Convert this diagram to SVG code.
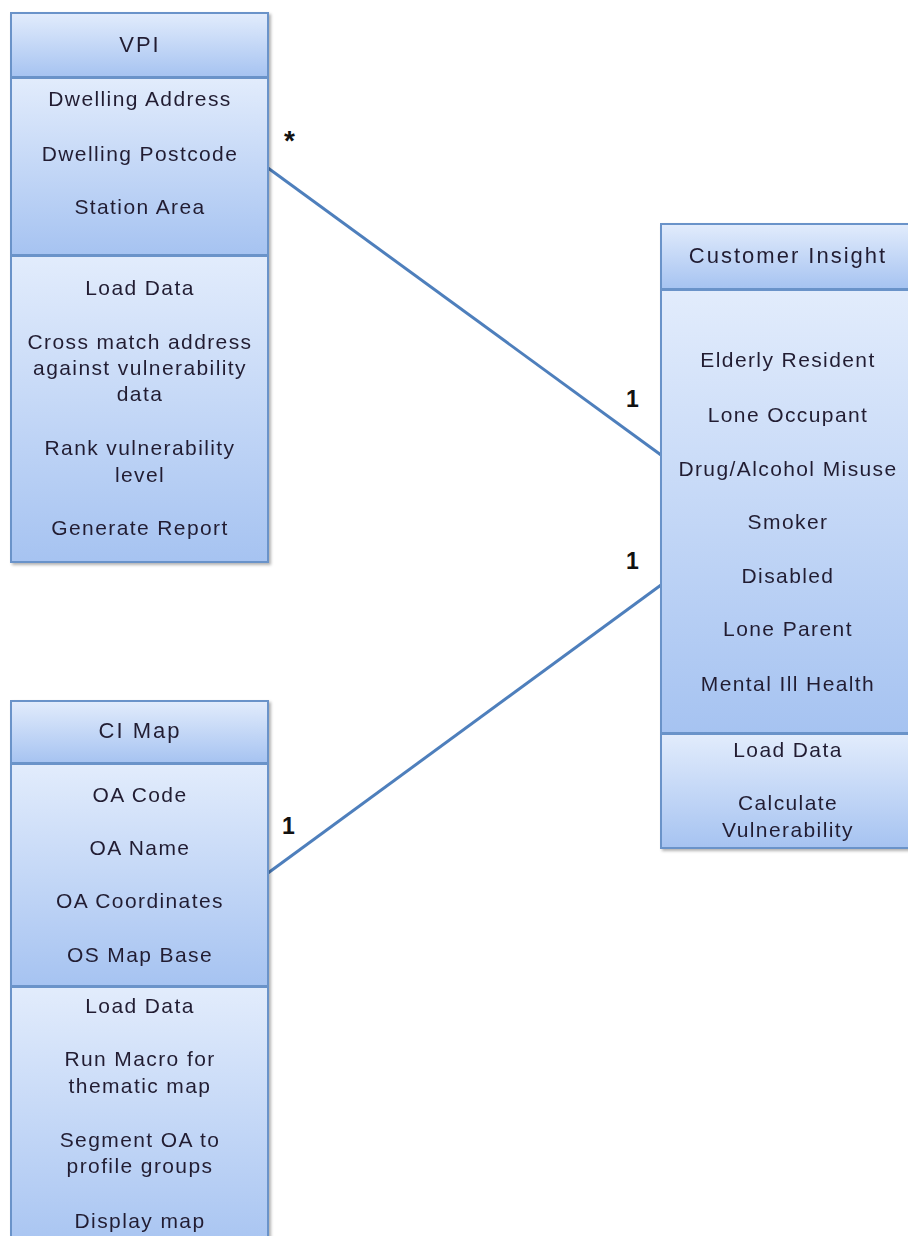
<svg xmlns="http://www.w3.org/2000/svg" width="908" height="1236" viewBox="0 0 908 1236">
<defs>
<linearGradient id="g" x1="0" y1="0" x2="0" y2="1">
<stop offset="0" stop-color="#e2ecfc"/>
<stop offset="1" stop-color="#a6c3f1"/>
</linearGradient>
<filter id="sh" x="-10%" y="-10%" width="120%" height="120%">
<feDropShadow dx="2" dy="2" stdDeviation="1.5" flood-color="#000" flood-opacity="0.3"/>
</filter>
<style>
.sec{fill:url(#g);stroke:#6b93c9;stroke-width:2}
.t{font-family:"Liberation Sans",Arial,sans-serif;font-size:21px;letter-spacing:1.4px;fill:#221e33;text-anchor:middle}
.h{font-size:22px;letter-spacing:2px}
.m{font-family:"Liberation Sans",Arial,sans-serif;font-size:23px;font-weight:bold;fill:#111}
.ln{stroke:#4e7fbc;stroke-width:3;fill:none}
</style>
</defs>
<g id="connectors">
<line class="ln" x1="268" y1="168" x2="661" y2="455"/>
<line class="ln" x1="661" y1="585" x2="268" y2="873"/>
<text class="m" x="284" y="150" style="font-size:28px">*</text>
<text class="m" x="626" y="407">1</text>
<text class="m" x="626" y="569">1</text>
<text class="m" x="282" y="834">1</text>
</g>
<g id="vpi" filter="url(#sh)">
<rect class="sec" x="11" y="13" width="257" height="64"/>
<rect class="sec" x="11" y="78" width="257" height="177"/>
<rect class="sec" x="11" y="256" width="257" height="306"/>
<text class="t h" x="140" y="52">VPI</text>
<text class="t" x="140" y="106">Dwelling Address</text>
<text class="t" x="140" y="161">Dwelling Postcode</text>
<text class="t" x="140" y="214">Station Area</text>
<text class="t" x="140" y="295">Load Data</text>
<text class="t" x="140" y="349">Cross match address</text>
<text class="t" x="140" y="375">against vulnerability</text>
<text class="t" x="140" y="401">data</text>
<text class="t" x="140" y="455">Rank vulnerability</text>
<text class="t" x="140" y="482">level</text>
<text class="t" x="140" y="535">Generate Report</text>
</g>
<g id="customer-insight" filter="url(#sh)">
<rect class="sec" x="661" y="224" width="256" height="65"/>
<rect class="sec" x="661" y="290" width="256" height="443"/>
<rect class="sec" x="661" y="734" width="256" height="114"/>
<text class="t h" x="788" y="263">Customer Insight</text>
<text class="t" x="788" y="367">Elderly Resident</text>
<text class="t" x="788" y="422">Lone Occupant</text>
<text class="t" x="788" y="476">Drug/Alcohol Misuse</text>
<text class="t" x="788" y="529">Smoker</text>
<text class="t" x="788" y="583">Disabled</text>
<text class="t" x="788" y="636">Lone Parent</text>
<text class="t" x="788" y="691">Mental Ill Health</text>
<text class="t" x="788" y="757">Load Data</text>
<text class="t" x="788" y="810">Calculate</text>
<text class="t" x="788" y="837">Vulnerability</text>
</g>
<g id="ci-map" filter="url(#sh)">
<rect class="sec" x="11" y="701" width="257" height="62"/>
<rect class="sec" x="11" y="764" width="257" height="222"/>
<rect class="sec" x="11" y="987" width="257" height="270"/>
<text class="t h" x="140" y="738">CI Map</text>
<text class="t" x="140" y="802">OA Code</text>
<text class="t" x="140" y="855">OA Name</text>
<text class="t" x="140" y="908">OA Coordinates</text>
<text class="t" x="140" y="962">OS Map Base</text>
<text class="t" x="140" y="1013">Load Data</text>
<text class="t" x="140" y="1066">Run Macro for</text>
<text class="t" x="140" y="1093">thematic map</text>
<text class="t" x="140" y="1147">Segment OA to</text>
<text class="t" x="140" y="1173">profile groups</text>
<text class="t" x="140" y="1228">Display map</text>
</g>
</svg>
